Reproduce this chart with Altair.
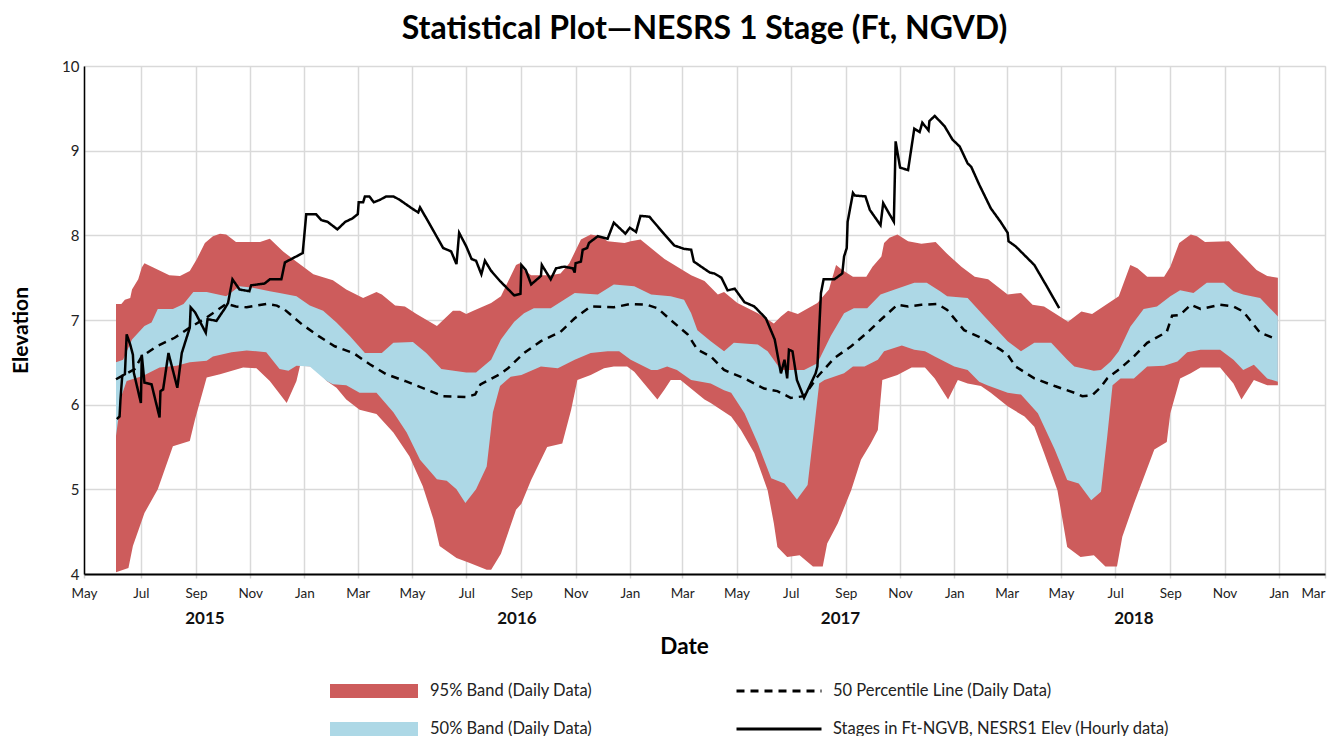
import altair as alt
import pandas as pd

TITLE = "Statistical Plot\u2014NESRS 1 Stage (Ft, NGVD)"

BAND_NAMES = ["95% Band (Daily Data)", "50% Band (Daily Data)"]
BAND_COLORS = ["#cd5c5c", "#add8e6"]
LINE_NAMES = ["50 Percentile Line (Daily Data)",
              "Stages in Ft-NGVB, NESRS1 Elev (Hourly data)"]

# 95% band, upper edge
UP95 = [("2015-06-03", 7.19), ("2015-06-09", 7.19), ("2015-06-13", 7.24), ("2015-06-19", 7.26),
        ("2015-06-21", 7.36), ("2015-06-28", 7.48), ("2015-07-02", 7.62), ("2015-07-05", 7.67),
        ("2015-07-19", 7.60), ("2015-08-02", 7.53), ("2015-08-14", 7.52), ("2015-08-25", 7.58),
        ("2015-09-02", 7.72), ("2015-09-11", 7.91), ("2015-09-20", 7.99), ("2015-09-28", 8.02),
        ("2015-10-05", 8.01), ("2015-10-16", 7.92), ("2015-11-12", 7.92), ("2015-11-23", 7.96),
        ("2015-12-08", 7.81), ("2015-12-19", 7.72), ("2016-01-11", 7.54), ("2016-02-02", 7.47),
        ("2016-02-17", 7.36), ("2016-03-07", 7.26), ("2016-03-22", 7.33), ("2016-03-28", 7.30),
        ("2016-04-12", 7.17), ("2016-04-23", 7.16), ("2016-05-06", 7.07), ("2016-05-29", 6.93),
        ("2016-06-16", 7.11), ("2016-06-24", 7.11), ("2016-07-01", 7.07), ("2016-07-09", 7.11),
        ("2016-07-29", 7.20), ("2016-08-09", 7.28), ("2016-08-26", 7.65), ("2016-08-30", 7.67),
        ("2016-09-04", 7.59), ("2016-09-12", 7.53), ("2016-10-04", 7.53), ("2016-10-15", 7.55),
        ("2016-10-25", 7.67), ("2016-11-07", 7.95), ("2016-11-18", 8.01), ("2016-11-29", 7.99),
        ("2016-12-07", 7.93), ("2016-12-26", 7.91), ("2017-01-02", 7.93), ("2017-01-13", 7.95),
        ("2017-02-09", 7.72), ("2017-03-11", 7.53), ("2017-03-26", 7.46), ("2017-04-10", 7.30),
        ("2017-04-17", 7.33), ("2017-05-02", 7.20), ("2017-05-25", 7.08), ("2017-06-12", 6.96),
        ("2017-06-20", 7.04), ("2017-06-28", 7.11), ("2017-07-09", 7.07), ("2017-07-31", 7.20),
        ("2017-08-13", 7.36), ("2017-08-21", 7.65), ("2017-08-28", 7.59), ("2017-09-09", 7.51),
        ("2017-09-24", 7.51), ("2017-10-01", 7.63), ("2017-10-11", 7.75), ("2017-10-14", 7.91),
        ("2017-10-20", 7.97), ("2017-10-29", 8.01), ("2017-11-10", 7.93), ("2017-11-25", 7.90),
        ("2017-12-11", 7.92), ("2017-12-23", 7.79), ("2018-01-09", 7.63), ("2018-01-24", 7.51),
        ("2018-02-08", 7.48), ("2018-03-02", 7.30), ("2018-03-17", 7.32), ("2018-03-30", 7.18),
        ("2018-04-12", 7.16), ("2018-05-09", 6.98), ("2018-05-24", 7.10), ("2018-06-05", 7.07),
        ("2018-07-05", 7.28), ("2018-07-18", 7.65), ("2018-07-26", 7.61), ("2018-08-06", 7.51),
        ("2018-08-25", 7.51), ("2018-09-01", 7.63), ("2018-09-11", 7.91), ("2018-09-24", 8.01),
        ("2018-10-01", 7.99), ("2018-10-10", 7.92), ("2018-11-06", 7.93), ("2018-11-15", 7.83),
        ("2018-12-07", 7.59), ("2018-12-19", 7.52), ("2018-12-31", 7.50)]

# 95% band, lower edge
LO95 = [("2015-06-03", 4.02), ("2015-06-17", 4.07), ("2015-06-22", 4.33), ("2015-06-30", 4.57),
        ("2015-07-05", 4.72), ("2015-07-20", 5.00), ("2015-08-06", 5.51), ("2015-08-25", 5.57),
        ("2015-08-31", 5.83), ("2015-09-13", 6.32), ("2015-09-28", 6.36), ("2015-10-24", 6.44),
        ("2015-11-08", 6.43), ("2015-11-23", 6.28), ("2015-12-12", 6.02), ("2015-12-23", 6.28),
        ("2015-12-27", 6.46), ("2016-01-11", 6.45), ("2016-01-26", 6.28), ("2016-02-06", 6.20),
        ("2016-02-17", 6.06), ("2016-03-03", 5.94), ("2016-03-22", 5.89), ("2016-04-10", 5.67),
        ("2016-04-28", 5.39), ("2016-05-13", 5.04), ("2016-05-25", 4.65), ("2016-06-01", 4.33),
        ("2016-06-20", 4.19), ("2016-07-05", 4.13), ("2016-07-24", 4.05), ("2016-07-29", 4.05),
        ("2016-08-09", 4.24), ("2016-08-26", 4.76), ("2016-09-01", 4.83), ("2016-09-12", 5.11),
        ("2016-09-30", 5.50), ("2016-10-17", 5.54), ("2016-10-27", 5.94), ("2016-11-03", 6.29),
        ("2016-11-18", 6.35), ("2016-12-03", 6.43), ("2016-12-14", 6.45), ("2016-12-29", 6.45),
        ("2017-01-06", 6.39), ("2017-01-17", 6.25), ("2017-02-01", 6.06), ("2017-02-09", 6.18),
        ("2017-02-16", 6.29), ("2017-02-27", 6.29), ("2017-03-26", 6.06), ("2017-04-02", 6.02),
        ("2017-04-25", 5.86), ("2017-05-06", 5.70), ("2017-05-21", 5.43), ("2017-06-05", 4.99),
        ("2017-06-12", 4.60), ("2017-06-16", 4.32), ("2017-06-27", 4.20), ("2017-07-11", 4.22),
        ("2017-07-26", 4.09), ("2017-08-06", 4.09), ("2017-08-11", 4.36), ("2017-08-23", 4.60),
        ("2017-09-07", 4.99), ("2017-09-18", 5.35), ("2017-09-29", 5.54), ("2017-10-07", 5.70),
        ("2017-10-12", 6.29), ("2017-10-29", 6.35), ("2017-11-14", 6.44), ("2017-11-29", 6.44),
        ("2017-12-10", 6.31), ("2017-12-25", 6.06), ("2018-01-05", 6.29), ("2018-01-16", 6.25),
        ("2018-01-31", 6.22), ("2018-02-11", 6.14), ("2018-03-02", 5.98), ("2018-03-21", 5.86),
        ("2018-04-01", 5.74), ("2018-04-12", 5.43), ("2018-04-27", 4.99), ("2018-05-08", 4.32),
        ("2018-05-23", 4.20), ("2018-06-07", 4.22), ("2018-06-20", 4.09), ("2018-07-03", 4.09),
        ("2018-07-09", 4.44), ("2018-07-22", 4.83), ("2018-08-14", 5.47), ("2018-08-28", 5.56),
        ("2018-09-01", 5.90), ("2018-09-12", 6.31), ("2018-09-24", 6.37), ("2018-10-05", 6.44),
        ("2018-10-27", 6.44), ("2018-11-11", 6.25), ("2018-11-20", 6.06), ("2018-12-04", 6.29),
        ("2018-12-19", 6.23), ("2018-12-31", 6.23)]

# 50% band, upper edge
UP50 = [("2015-06-03", 6.50), ("2015-06-11", 6.53), ("2015-06-21", 6.77), ("2015-07-05", 6.93),
        ("2015-07-13", 6.97), ("2015-07-20", 7.13), ("2015-08-06", 7.13), ("2015-08-18", 7.19),
        ("2015-08-29", 7.33), ("2015-09-13", 7.33), ("2015-10-05", 7.28), ("2015-10-20", 7.40),
        ("2015-11-04", 7.38), ("2015-11-23", 7.34), ("2015-12-04", 7.32), ("2015-12-23", 7.28),
        ("2016-01-07", 7.17), ("2016-01-22", 7.11), ("2016-02-06", 6.97), ("2016-02-21", 6.81),
        ("2016-03-09", 6.61), ("2016-03-28", 6.61), ("2016-04-10", 6.73), ("2016-05-02", 6.74),
        ("2016-05-17", 6.61), ("2016-06-03", 6.42), ("2016-07-01", 6.38), ("2016-07-12", 6.38),
        ("2016-07-29", 6.53), ("2016-08-09", 6.77), ("2016-08-24", 6.98), ("2016-09-04", 7.08),
        ("2016-09-15", 7.14), ("2016-10-04", 7.14), ("2016-10-31", 7.32), ("2016-11-26", 7.30),
        ("2016-12-14", 7.42), ("2017-01-06", 7.40), ("2017-01-25", 7.30), ("2017-02-16", 7.28),
        ("2017-03-03", 7.24), ("2017-03-11", 7.08), ("2017-03-18", 6.88), ("2017-04-02", 6.75),
        ("2017-04-17", 6.63), ("2017-04-28", 6.73), ("2017-05-25", 6.71), ("2017-06-05", 6.63),
        ("2017-06-20", 6.41), ("2017-07-16", 6.41), ("2017-07-31", 6.49), ("2017-08-15", 6.81),
        ("2017-08-30", 7.08), ("2017-09-10", 7.14), ("2017-09-25", 7.14), ("2017-10-10", 7.30),
        ("2017-10-26", 7.36), ("2017-11-17", 7.44), ("2017-12-01", 7.44), ("2017-12-16", 7.34),
        ("2017-12-24", 7.28), ("2018-01-16", 7.26), ("2018-02-04", 7.04), ("2018-03-02", 6.75),
        ("2018-03-17", 6.63), ("2018-04-01", 6.73), ("2018-04-20", 6.73), ("2018-05-08", 6.53),
        ("2018-05-16", 6.45), ("2018-06-07", 6.40), ("2018-06-15", 6.41), ("2018-06-26", 6.51),
        ("2018-07-05", 6.63), ("2018-07-18", 6.92), ("2018-08-02", 7.13), ("2018-08-17", 7.16),
        ("2018-09-01", 7.28), ("2018-09-12", 7.35), ("2018-09-27", 7.32), ("2018-10-12", 7.44),
        ("2018-10-31", 7.44), ("2018-11-11", 7.34), ("2018-11-22", 7.30), ("2018-12-11", 7.26),
        ("2018-12-31", 7.04)]

# 50% band, lower edge
LO50 = [("2015-06-03", 5.63), ("2015-06-09", 6.10), ("2015-06-15", 6.28), ("2015-07-03", 6.34),
        ("2015-07-22", 6.44), ("2015-08-10", 6.46), ("2015-08-25", 6.50), ("2015-09-13", 6.52),
        ("2015-09-20", 6.57), ("2015-10-11", 6.62), ("2015-10-28", 6.64), ("2015-11-19", 6.62),
        ("2015-12-04", 6.42), ("2015-12-14", 6.40), ("2015-12-23", 6.46), ("2016-01-07", 6.45),
        ("2016-01-26", 6.28), ("2016-02-02", 6.24), ("2016-02-17", 6.23), ("2016-03-03", 6.14),
        ("2016-03-22", 6.14), ("2016-04-10", 5.91), ("2016-04-25", 5.67), ("2016-05-10", 5.35),
        ("2016-05-29", 5.12), ("2016-06-09", 5.10), ("2016-06-20", 5.00), ("2016-06-30", 4.84),
        ("2016-07-12", 5.00), ("2016-07-24", 5.27), ("2016-07-31", 5.91), ("2016-08-08", 6.22),
        ("2016-08-20", 6.33), ("2016-09-01", 6.35), ("2016-09-23", 6.45), ("2016-10-12", 6.43),
        ("2016-10-31", 6.53), ("2016-11-18", 6.61), ("2016-12-07", 6.63), ("2016-12-20", 6.63),
        ("2017-01-02", 6.53), ("2017-01-25", 6.41), ("2017-02-01", 6.41), ("2017-02-12", 6.45),
        ("2017-02-23", 6.41), ("2017-03-11", 6.29), ("2017-04-02", 6.25), ("2017-04-17", 6.17),
        ("2017-04-25", 6.14), ("2017-05-10", 5.90), ("2017-05-25", 5.54), ("2017-06-09", 5.13),
        ("2017-06-24", 5.07), ("2017-07-08", 4.88), ("2017-07-20", 5.05), ("2017-07-28", 5.78),
        ("2017-08-02", 6.25), ("2017-08-08", 6.29), ("2017-08-30", 6.37), ("2017-09-09", 6.45),
        ("2017-09-22", 6.45), ("2017-10-07", 6.53), ("2017-10-14", 6.63), ("2017-11-03", 6.70),
        ("2017-11-17", 6.65), ("2017-11-29", 6.63), ("2017-12-10", 6.57), ("2018-01-01", 6.45),
        ("2018-01-16", 6.41), ("2018-01-29", 6.27), ("2018-02-07", 6.23), ("2018-03-02", 6.14),
        ("2018-03-17", 6.12), ("2018-04-05", 5.90), ("2018-04-24", 5.47), ("2018-05-08", 5.11),
        ("2018-05-21", 5.07), ("2018-06-04", 4.87), ("2018-06-15", 4.97), ("2018-06-22", 5.62),
        ("2018-06-28", 6.23), ("2018-07-07", 6.31), ("2018-07-22", 6.31), ("2018-08-06", 6.45),
        ("2018-08-25", 6.46), ("2018-09-09", 6.51), ("2018-09-20", 6.62), ("2018-10-05", 6.65),
        ("2018-10-27", 6.65), ("2018-11-11", 6.53), ("2018-11-22", 6.41), ("2018-12-04", 6.47),
        ("2018-12-19", 6.31), ("2018-12-31", 6.27)]

# 50 percentile line
MEDIAN = [("2015-06-03", 6.30), ("2015-06-24", 6.42), ("2015-07-02", 6.57), ("2015-07-19", 6.69),
          ("2015-08-08", 6.79), ("2015-08-25", 6.91), ("2015-09-13", 7.03), ("2015-10-05", 7.19),
          ("2015-10-16", 7.16), ("2015-10-28", 7.15), ("2015-11-19", 7.19), ("2015-12-01", 7.17),
          ("2015-12-10", 7.12), ("2015-12-29", 6.95), ("2016-01-17", 6.81), ("2016-02-04", 6.69),
          ("2016-02-25", 6.61), ("2016-03-14", 6.48), ("2016-04-02", 6.36), ("2016-04-23", 6.28),
          ("2016-05-17", 6.18), ("2016-06-05", 6.10), ("2016-07-01", 6.09), ("2016-07-11", 6.12),
          ("2016-07-17", 6.24), ("2016-08-08", 6.36), ("2016-08-17", 6.43), ("2016-09-04", 6.61),
          ("2016-09-23", 6.75), ("2016-10-15", 6.86), ("2016-10-31", 7.02), ("2016-11-18", 7.16),
          ("2016-12-14", 7.15), ("2017-01-02", 7.19), ("2017-01-20", 7.18), ("2017-02-01", 7.14),
          ("2017-02-16", 7.00), ("2017-03-07", 6.83), ("2017-03-18", 6.65), ("2017-04-02", 6.57),
          ("2017-04-17", 6.41), ("2017-05-10", 6.31), ("2017-06-01", 6.19), ("2017-06-16", 6.16),
          ("2017-07-01", 6.08), ("2017-07-16", 6.10), ("2017-07-31", 6.33), ("2017-08-19", 6.55),
          ("2017-09-07", 6.69), ("2017-09-25", 6.85), ("2017-10-10", 7.00), ("2017-10-29", 7.18),
          ("2017-11-10", 7.16), ("2017-11-25", 7.18), ("2017-12-13", 7.19), ("2017-12-24", 7.12),
          ("2018-01-12", 6.88), ("2018-01-31", 6.79), ("2018-02-22", 6.65), ("2018-03-02", 6.59),
          ("2018-03-11", 6.45), ("2018-04-01", 6.31), ("2018-04-24", 6.22), ("2018-05-16", 6.14),
          ("2018-05-25", 6.10), ("2018-06-05", 6.11), ("2018-06-15", 6.21), ("2018-06-22", 6.31),
          ("2018-07-07", 6.43), ("2018-07-22", 6.57), ("2018-08-06", 6.73), ("2018-08-28", 6.86),
          ("2018-09-03", 7.05), ("2018-09-12", 7.06), ("2018-09-24", 7.18), ("2018-10-05", 7.13),
          ("2018-10-27", 7.18), ("2018-11-11", 7.16), ("2018-11-22", 7.10), ("2018-12-11", 6.85),
          ("2018-12-30", 6.77)]

# Observed stage (hourly data)
STAGE = [("2015-06-04", 5.83), ("2015-06-07", 5.86), ("2015-06-08", 6.06), ("2015-06-10", 6.34),
         ("2015-06-13", 6.36), ("2015-06-15", 6.83), ("2015-06-19", 6.71), ("2015-06-22", 6.59),
         ("2015-06-23", 6.38), ("2015-07-01", 6.02), ("2015-07-02", 6.59), ("2015-07-05", 6.26),
         ("2015-07-13", 6.24), ("2015-07-22", 5.85), ("2015-07-23", 6.16), ("2015-07-26", 6.18),
         ("2015-08-01", 6.61), ("2015-08-11", 6.20), ("2015-08-16", 6.61), ("2015-08-25", 6.91),
         ("2015-08-26", 7.15), ("2015-08-31", 7.09), ("2015-09-12", 6.85), ("2015-09-14", 7.01),
         ("2015-09-24", 6.99), ("2015-10-03", 7.13), ("2015-10-07", 7.20), ("2015-10-12", 7.48),
         ("2015-10-20", 7.36), ("2015-10-31", 7.34), ("2015-11-02", 7.41), ("2015-11-17", 7.43),
         ("2015-11-23", 7.48), ("2015-12-06", 7.48), ("2015-12-10", 7.68), ("2015-12-30", 7.79),
         ("2016-01-03", 8.25), ("2016-01-14", 8.25), ("2016-01-20", 8.18), ("2016-01-27", 8.16),
         ("2016-02-07", 8.07), ("2016-02-16", 8.16), ("2016-02-24", 8.20), ("2016-03-01", 8.25),
         ("2016-03-02", 8.39), ("2016-03-07", 8.39), ("2016-03-09", 8.46), ("2016-03-14", 8.46),
         ("2016-03-19", 8.39), ("2016-03-26", 8.42), ("2016-04-02", 8.46), ("2016-04-10", 8.46),
         ("2016-04-17", 8.42), ("2016-05-02", 8.31), ("2016-05-08", 8.27), ("2016-05-10", 8.33),
         ("2016-05-21", 8.13), ("2016-06-05", 7.85), ("2016-06-14", 7.81), ("2016-06-20", 7.66),
         ("2016-06-23", 8.03), ("2016-07-01", 7.87), ("2016-07-07", 7.72), ("2016-07-12", 7.70),
         ("2016-07-18", 7.54), ("2016-07-22", 7.70), ("2016-07-29", 7.58), ("2016-08-08", 7.46),
         ("2016-08-24", 7.29), ("2016-08-31", 7.31), ("2016-09-01", 7.65), ("2016-09-06", 7.59),
         ("2016-09-12", 7.42), ("2016-09-23", 7.52), ("2016-09-24", 7.65), ("2016-10-04", 7.48),
         ("2016-10-10", 7.61), ("2016-10-19", 7.63), ("2016-10-29", 7.61), ("2016-10-31", 7.56),
         ("2016-11-01", 7.67), ("2016-11-07", 7.69), ("2016-11-09", 7.83), ("2016-11-14", 7.85),
         ("2016-11-16", 7.91), ("2016-11-26", 7.99), ("2016-12-07", 7.96), ("2016-12-14", 8.15),
         ("2016-12-27", 8.02), ("2017-01-01", 8.09), ("2017-01-08", 8.04), ("2017-01-13", 8.23),
         ("2017-01-23", 8.22), ("2017-02-09", 8.01), ("2017-02-20", 7.88), ("2017-03-03", 7.84),
         ("2017-03-11", 7.83), ("2017-03-14", 7.69), ("2017-04-01", 7.56), ("2017-04-06", 7.55),
         ("2017-04-14", 7.50), ("2017-04-21", 7.35), ("2017-04-29", 7.37), ("2017-05-10", 7.21),
         ("2017-05-21", 7.16), ("2017-06-03", 7.02), ("2017-06-13", 6.77), ("2017-06-20", 6.37),
         ("2017-06-24", 6.53), ("2017-06-27", 6.31), ("2017-06-29", 6.65), ("2017-07-03", 6.63),
         ("2017-07-08", 6.29), ("2017-07-16", 6.08), ("2017-07-29", 6.37), ("2017-07-31", 6.45),
         ("2017-08-04", 7.32), ("2017-08-07", 7.48), ("2017-08-19", 7.48), ("2017-08-28", 7.55),
         ("2017-08-30", 7.75), ("2017-09-02", 7.85), ("2017-09-03", 8.16), ("2017-09-09", 8.50),
         ("2017-09-11", 8.47), ("2017-09-23", 8.46), ("2017-09-28", 8.30), ("2017-10-10", 8.12),
         ("2017-10-13", 8.38), ("2017-10-25", 8.16), ("2017-10-27", 9.11), ("2017-11-01", 8.80),
         ("2017-11-10", 8.77), ("2017-11-17", 9.26), ("2017-11-23", 9.22), ("2017-11-26", 9.33),
         ("2017-12-03", 9.24), ("2017-12-04", 9.35), ("2017-12-10", 9.41), ("2017-12-21", 9.29),
         ("2017-12-30", 9.13), ("2018-01-07", 9.05), ("2018-01-16", 8.85), ("2018-01-20", 8.81),
         ("2018-01-29", 8.60), ("2018-02-11", 8.32), ("2018-02-22", 8.16), ("2018-03-02", 8.03),
         ("2018-03-03", 7.93), ("2018-03-11", 7.87), ("2018-04-01", 7.65), ("2018-04-16", 7.38),
         ("2018-04-29", 7.14)]

YEARS = ["2015", "2016", "2017", "2018"]
YEAR_LABEL_DATES = ["2015-09-11", "2016-08-27", "2017-08-26", "2018-07-22"]
Y_TICKS = [4, 5, 6, 7, 8, 9, 10]


def polygon(upper, lower, name):
    pts = list(upper) + list(reversed(lower))
    return pd.DataFrame({"date": [d for d, _ in pts], "value": [v for _, v in pts],
                         "i": list(range(len(pts))), "series": name})


def path(points, name):
    return pd.DataFrame({"date": [d for d, _ in points], "value": [v for _, v in points],
                         "i": list(range(len(points))), "series": name})


band95 = polygon(UP95, LO95, BAND_NAMES[0])
band50 = polygon(UP50, LO50, BAND_NAMES[1])
median = path(MEDIAN, LINE_NAMES[0])
stage = path(STAGE, LINE_NAMES[1])
years = pd.DataFrame({"date": YEAR_LABEL_DATES, "year": YEARS})

W, H = 1241, 508
FONT = "Lato"

dom_start = alt.DateTime(year=2015, month=4, date=28, utc=True)
dom_end = alt.DateTime(year=2019, month=2, date=22, utc=True)
tick_vals = [dom_start]
for k in range(22):
    m = 7 + 2 * k
    tick_vals.append(alt.DateTime(year=2015 + (m - 1) // 12, month=(m - 1) % 12 + 1, date=1, utc=True))
tick_vals.append(dom_end)

x_enc = alt.X(
    "date:T",
    scale=alt.Scale(type="utc", domain=[dom_start, dom_end]),
    axis=alt.Axis(
        values=tick_vals,
        labelExpr="utcmonth(datum.value) == 3 ? 'May' : (utcmonth(datum.value) == 1 ? 'Mar' : utcFormat(datum.value, '%b'))",
        labelAlign={"condition": {"test": "utcmonth(datum.value) == 1", "value": "right"},
                    "value": "center"},
        grid=True, gridColor="#d9d9d9", gridWidth=1.5,
        ticks=True, tickColor="#d0d0d0", tickSize=4, tickWidth=1.5,
        domain=True, domainColor="black", domainWidth=2,
        labelFont=FONT, labelFontSize=13.5, labelColor="#222", labelPadding=8,
        labelFlush=False, labelOverlap=False,
        title="Date", titleFont=FONT, titleFontSize=22.5, titleFontWeight="bold",
        titleColor="black", titleX=600, titleY=72, titleBaseline="middle",
    ),
)
y_enc = alt.Y(
    "value:Q",
    scale=alt.Scale(domain=[4, 10], nice=False, zero=False),
    axis=alt.Axis(
        values=Y_TICKS, grid=True, gridColor="#d9d9d9", gridWidth=1.5,
        ticks=False, domain=True, domainColor="black", domainWidth=1.5,
        labelFont=FONT, labelFontSize=15, labelColor="#222", labelPadding=5,
        title="Elevation", titleFont=FONT, titleFontSize=21, titleFontWeight="bold",
        titleColor="black", titleX=-63, titleY=264, titleBaseline="middle",
    ),
)

fill_enc = alt.Fill(
    "series:N",
    scale=alt.Scale(domain=BAND_NAMES, range=BAND_COLORS),
    legend=alt.Legend(
        title=None, orient="none", legendX=246, legendY=617, padding=0,
        symbolType="M-1,-0.16L1,-0.16L1,0.16L-1,0.16Z", symbolSize=7744,
        symbolStrokeWidth=0, symbolOpacity=1, clipHeight=16, rowPadding=21,
        labelOffset=12, labelFont=FONT, labelFontSize=16.5, labelColor="#222",
        labelLimit=450,
    ),
)
dash_enc = alt.StrokeDash(
    "series:N",
    scale=alt.Scale(domain=LINE_NAMES, range=[[8, 6], [1, 0]]),
    legend=alt.Legend(
        title=None, orient="none", legendX=651, legendY=617, padding=0,
        symbolType="stroke", symbolSize=7225, symbolStrokeWidth=3,
        symbolStrokeColor="black", clipHeight=16, rowPadding=21,
        labelOffset=10, labelFont=FONT, labelFontSize=16.5, labelColor="#222",
        labelLimit=450,
    ),
)

red = alt.Chart(band95).mark_line(strokeWidth=0, fillOpacity=1).encode(
    x=x_enc, y=y_enc, order=alt.Order("i:Q"), fill=fill_enc)
blue = alt.Chart(band50).mark_line(strokeWidth=0, fillOpacity=1).encode(
    x=x_enc, y=y_enc, order=alt.Order("i:Q"), fill=fill_enc)
med = alt.Chart(median).mark_line(color="black", strokeWidth=2.5).encode(
    x=x_enc, y=y_enc, order=alt.Order("i:Q"), strokeDash=dash_enc)
stg = alt.Chart(stage).mark_line(color="black", strokeWidth=2.5).encode(
    x=x_enc, y=y_enc, order=alt.Order("i:Q"), strokeDash=dash_enc)
yr = alt.Chart(years).mark_text(font=FONT, fontSize=17, fontWeight="bold", color="#111",
                                baseline="middle").encode(
    x=x_enc, y=alt.value(553), text="year:N")

chart = alt.layer(red, blue, med, stg, yr).properties(
    width=W, height=H,
    title=alt.Title(TITLE, font=FONT, fontSize=32, fontWeight="bold", color="black",
                    anchor="middle", frame="group", offset=13),
    padding={"left": 76, "top": 58, "right": 3, "bottom": 165},
    autosize=alt.AutoSizeParams(type="none"),
).configure_view(stroke="black", strokeWidth=1.5).configure(background="white")

chart.save("out.html", embed_options={"renderer": "svg", "actions": False})
